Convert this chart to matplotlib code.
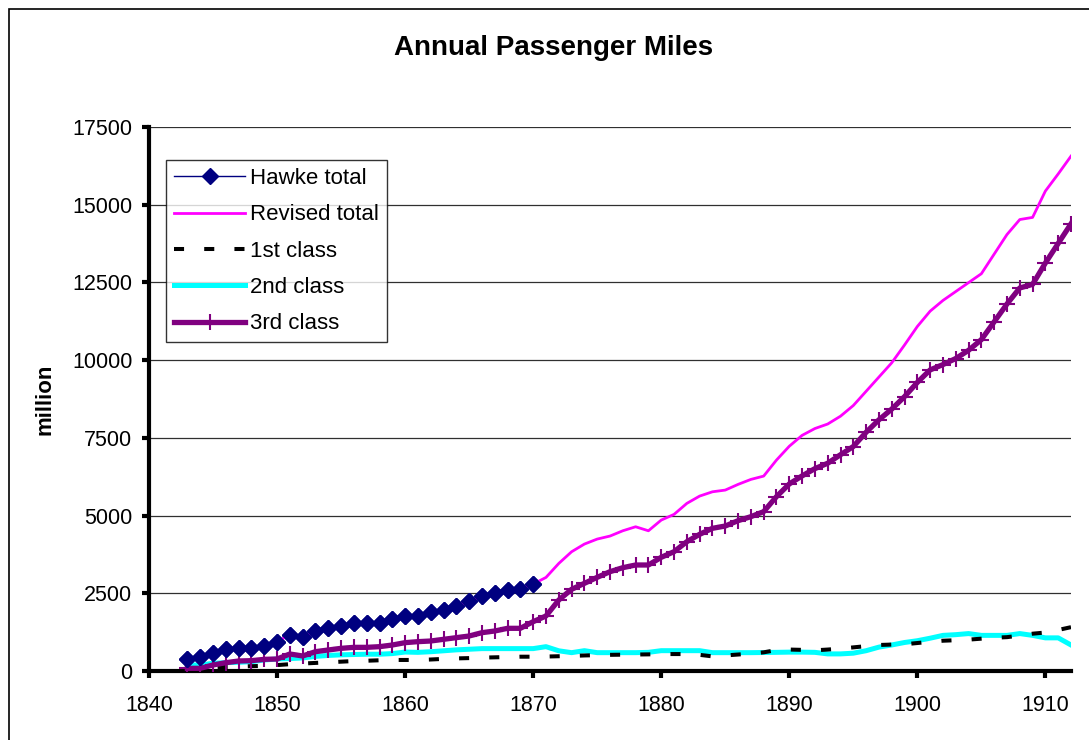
import matplotlib
matplotlib.use("Agg")
import matplotlib.pyplot as plt
from matplotlib.patches import Rectangle

plt.rcParams['font.family'] = ['Liberation Sans', 'DejaVu Sans']

years = list(range(1843, 1913))
hawke_years = list(range(1843, 1871))

hawke_total = [376, 440, 590, 717, 750, 747, 804, 942, 1167, 1083, 1276, 1383, 1437, 1553,
               1553, 1553, 1662, 1768, 1768, 1887, 1951, 2100, 2240, 2411, 2518, 2604, 2647, 2797]

revised_total = [376, 440, 590, 717, 750, 747, 804, 942, 1167, 1083, 1276, 1383, 1437, 1553,
                 1553, 1553, 1662, 1768, 1768, 1887, 1951, 2100, 2240, 2411, 2518, 2604, 2647, 2797,
                 3010, 3460, 3836, 4083, 4244, 4341, 4511, 4640, 4511, 4855, 5038, 5392, 5627, 5765,
                 5820, 6003, 6163, 6270, 6785, 7230, 7580, 7800, 7945, 8197, 8540, 8998, 9456, 9914,
                 10487, 11083, 11576, 11920, 12207, 12494, 12780, 13411, 14041, 14523, 14592, 15440,
                 15990, 16563]

first_class = [80, 90, 105, 130, 145, 155, 165, 190, 220, 240, 260, 280, 300, 320,
               330, 345, 355, 355, 355, 370, 390, 405, 415, 430, 440, 450, 460, 460,
               465, 475, 485, 500, 510, 520, 525, 530, 535, 545, 545, 545, 520, 470,
               500, 530, 560, 600, 675, 690, 680, 665, 690, 720, 760, 800, 837, 850,
               860, 900, 940, 974, 990, 1009, 1040, 1070, 1089, 1140, 1200, 1238,
               1320, 1410]

second_class = [193, 193, 247, 268, 280, 300, 354, 386, 400, 420, 470, 500, 520, 530,
                540, 540, 560, 610, 600, 620, 650, 680, 700, 720, 720, 720, 720, 720,
                783, 650, 590, 654, 590, 590, 590, 590, 600, 654, 654, 654, 654, 590,
                590, 590, 590, 595, 600, 607, 607, 600, 550, 550, 573, 653, 768, 837,
                917, 974, 1055, 1146, 1169, 1204, 1146, 1146, 1146, 1204, 1146, 1066,
                1066, 837]

third_class = [86, 86, 193, 268, 322, 333, 375, 386, 547, 483, 622, 676, 729, 761,
               761, 783, 836, 912, 944, 965, 1019, 1073, 1126, 1233, 1287, 1373, 1373, 1587,
               1769, 2284, 2627, 2820, 3013, 3195, 3324, 3410, 3410, 3657, 3838, 4160, 4397, 4590,
               4664, 4836, 4965, 5126, 5609, 6017, 6276, 6510, 6683, 6958, 7221, 7680, 8081, 8425,
               8826, 9284, 9686, 9857, 10052, 10316, 10660, 11233, 11806, 12322, 12437, 13125,
               13755, 14386]

W, H = 1089, 740
fig = plt.figure(figsize=(W / 100, H / 100), dpi=100)
ax = fig.add_axes([149 / W, 1 - 671 / H, (1071 - 149) / W, (671 - 127) / H])

# series
ax.plot(years, second_class, color='#00FFFF', lw=3.6, label='2nd class', zorder=3)
ax.plot(years, first_class, color='black', lw=2.9, ls=(0, (2.5, 5)), label='1st class', zorder=4)
ax.plot(years, third_class, color='#800080', lw=3.8, marker='+', ms=12, mew=1.5,
        label='3rd class', zorder=5)
ax.plot(hawke_years, hawke_total, color='#000080', lw=1, marker='D', ms=8.5,
        label='Hawke total', zorder=5.5)
ax.plot(years, revised_total, color='#FF00FF', lw=2, label='Revised total', zorder=6)
ax.plot(hawke_years, hawke_total, ls='none', color='#000080', marker='D', ms=8.5, zorder=7)

ax.set_xlim(1840, 1912)
ax.set_ylim(0, 17500)
ax.set_xticks(range(1840, 1911, 10))
ax.set_yticks(range(0, 17501, 2500))
ax.grid(axis='y', color='#303030', lw=0.9)
ax.set_axisbelow(True)
for s in ['top', 'right']:
    ax.spines[s].set_visible(False)
for s in ['left', 'bottom']:
    ax.spines[s].set_linewidth(3)
ax.tick_params(axis='both', labelsize=15.5, width=3, length=5)
ax.tick_params(axis='y', pad=7)
ax.tick_params(axis='x', pad=12)

fig.text(554 / W, 1 - 48 / H, 'Annual Passenger Miles', ha='center', va='center',
         fontsize=20, fontweight='bold')
fig.text(45 / W, 1 - 399 / H, 'million', ha='center', va='center', rotation=90,
         fontsize=16, fontweight='bold')

handles, labels = ax.get_legend_handles_labels()
order = ['Hawke total', 'Revised total', '1st class', '2nd class', '3rd class']
hs = [handles[labels.index(o)] for o in order]
leg = fig.legend(hs, order, loc='upper left', bbox_to_anchor=(166 / W, 1 - 160 / H),
                 fontsize=16, frameon=True, fancybox=False, edgecolor='black',
                 handlelength=3.2, handletextpad=0.22, labelspacing=0.69,
                 borderpad=0.36, borderaxespad=0)
leg.get_frame().set_linewidth(1)

fig.add_artist(Rectangle((8.5 / W, -0.1), 1.2, 1.1 - 9.5 / H, transform=fig.transFigure,
                         fill=False, edgecolor='black', lw=1.2))

fig.savefig('out.png', dpi=100)
